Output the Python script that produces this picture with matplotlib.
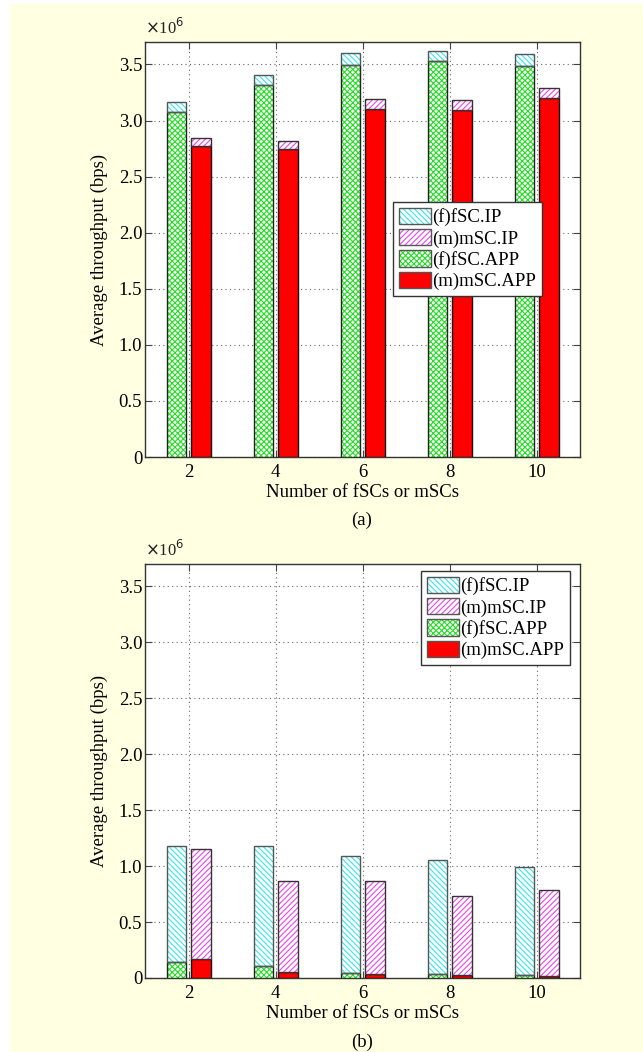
import matplotlib
matplotlib.use("Agg")
import matplotlib.pyplot as plt
from matplotlib.patches import Rectangle, Patch
from matplotlib.legend_handler import HandlerTuple
from matplotlib.ticker import FuncFormatter

plt.rcParams['font.family'] = ['Liberation Serif', 'DejaVu Serif']
plt.rcParams['hatch.linewidth'] = 0.8

# ---- data (bps) ----
num_scs = [2, 4, 6, 8, 10]
a_fsc_app = [3.08e6, 3.32e6, 3.497e6, 3.527e6, 3.49e6]
a_fsc_ip = [3.166e6, 3.41e6, 3.598e6, 3.62e6, 3.59e6]
a_msc_app = [2.77e6, 2.744e6, 3.107e6, 3.098e6, 3.20e6]
a_msc_ip = [2.845e6, 2.82e6, 3.196e6, 3.187e6, 3.286e6]

b_fsc_app = [0.143e6, 0.104e6, 0.045e6, 0.038e6, 0.027e6]
b_fsc_ip = [1.178e6, 1.184e6, 1.086e6, 1.059e6, 0.99e6]
b_msc_app = [0.17e6, 0.054e6, 0.036e6, 0.023e6, 0.014e6]
b_msc_ip = [1.151e6, 0.865e6, 0.871e6, 0.734e6, 0.784e6]

labels = ['(f)fSC.IP', '(m)mSC.IP', '(f)fSC.APP', '(m)mSC.APP']
xticks = [2, 4, 6, 8, 10]
yticks = [0, 0.5e6, 1.0e6, 1.5e6, 2.0e6, 2.5e6, 3.0e6, 3.5e6]

W, H = 643, 1052
FS = 13.5
fig = plt.figure(figsize=(W / 100, H / 100), dpi=100, facecolor='white')
bg = '#FFFFE1'
fig.patches.append(Rectangle((10 / W, 0), 1 - 10 / W, 1 - 4 / H, transform=fig.transFigure,
                             facecolor=bg, edgecolor='none', zorder=-10))

CYAN = '#33E6F0'
MAG = '#EE44EE'
GREEN = '#22DD22'
RED = '#FF0000'
OUT = '#555555'
H_CY = '\\' * 6
H_MG = '/' * 6
H_GR = 'x' * 6
width = 0.45
off_f = -0.275
off_m = 0.285


def hbar(ax, x, h, bottom, color, hatch, edge):
    ax.bar(x, h, width, bottom=bottom, facecolor='white', edgecolor=color, hatch=hatch,
           linewidth=0, zorder=3)
    ax.bar(x, h, width, bottom=bottom, facecolor='none', edgecolor=edge, linewidth=1.0, zorder=4)


def panel(rect, f_app, f_ip, m_app, m_ip, leg_loc):
    ax = fig.add_axes(rect)
    xf = [v + off_f for v in num_scs]
    xm = [v + off_m for v in num_scs]
    f_top = [t - b for t, b in zip(f_ip, f_app)]
    m_top = [t - b for t, b in zip(m_ip, m_app)]
    hbar(ax, xf, f_app, 0, GREEN, H_GR, '#222222')
    hbar(ax, xf, f_top, f_app, CYAN, H_CY, OUT)
    ax.bar(xm, m_app, width, facecolor=RED, edgecolor='#111111', linewidth=1.0, zorder=3)
    hbar(ax, xm, m_top, m_app, MAG, H_MG, '#333333')

    ax.set_xlim(1, 11)
    ax.set_ylim(0, 3.7e6)
    ax.set_xticks(xticks)
    ax.set_yticks(yticks)
    ax.yaxis.set_major_formatter(FuncFormatter(lambda v, p: '0' if v == 0 else f'{v / 1e6:.1f}'))
    ax.tick_params(direction='in', top=True, right=True, labelsize=FS, length=5,
                   color='#444444')
    ax.tick_params(axis='x', pad=5)
    ax.tick_params(axis='y', pad=2)
    ax.grid(True, linestyle=(0, (1, 3)), color='#666666', linewidth=0.8, zorder=0)
    ax.set_axisbelow(True)
    for s in ax.spines.values():
        s.set_color('#333333')
        s.set_linewidth(1.0)
    ax.set_facecolor('white')
    ax.set_xlabel('Number of fSCs or mSCs', fontsize=FS, labelpad=2)
    ax.set_ylabel('Average throughput (bps)', fontsize=FS, labelpad=8)
    ax.text(0.0, 1.01, r'$\times$10$^{6}$', transform=ax.transAxes, fontsize=12,
            ha='left', va='bottom', color='#222222')

    handles = [
        (Patch(facecolor='white', edgecolor=CYAN, hatch=H_CY, linewidth=0),
         Patch(facecolor='none', edgecolor=OUT, linewidth=1.0)),
        (Patch(facecolor='white', edgecolor=MAG, hatch=H_MG, linewidth=0),
         Patch(facecolor='none', edgecolor=OUT, linewidth=1.0)),
        (Patch(facecolor='white', edgecolor=GREEN, hatch=H_GR, linewidth=0),
         Patch(facecolor='none', edgecolor=OUT, linewidth=1.0)),
        Patch(facecolor=RED, edgecolor=OUT, linewidth=1.0),
    ]
    leg = ax.legend(handles, labels, handler_map={tuple: HandlerTuple(ndivide=1, pad=0)},
                    loc='upper left', bbox_to_anchor=leg_loc, fontsize=FS,
                    fancybox=False, framealpha=1, edgecolor='#333333',
                    handlelength=1.7, handleheight=0.95, handletextpad=0.08,
                    labelspacing=0.15, borderpad=0.3, borderaxespad=0)
    leg.get_frame().set_linewidth(1.0)
    leg.set_zorder(10)
    return ax


ax_a = panel([145 / W, 1 - 457 / H, 435 / W, 415 / H],
             a_fsc_app, a_fsc_ip, a_msc_app, a_msc_ip,
             ((393 - 145) / 435, (457 - 202) / 415))
ax_b = panel([145 / W, 1 - 978 / H, 435 / W, 414 / H],
             b_fsc_app, b_fsc_ip, b_msc_app, b_msc_ip,
             ((421 - 145) / 435, (978 - 571) / 414))

fig.text(362 / W, 1 - 520 / H, '(a)', ha='center', va='center', fontsize=FS)
fig.text(362 / W, 1 - 1042 / H, '(b)', ha='center', va='center', fontsize=FS)

fig.savefig('out.png', dpi=100, facecolor=fig.get_facecolor())
